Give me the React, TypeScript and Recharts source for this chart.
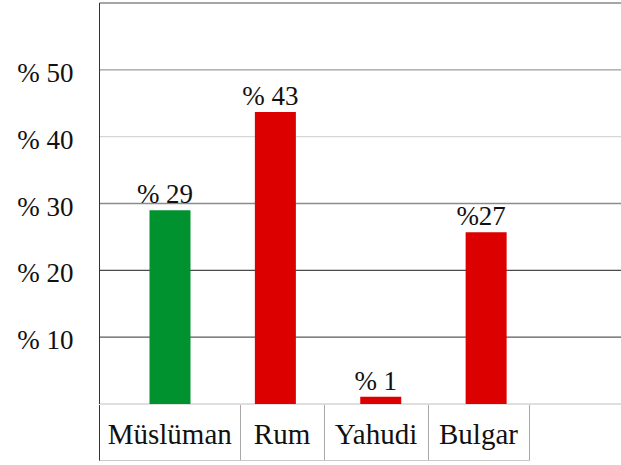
import React from 'react';
import { BarChart, Bar, XAxis, YAxis, CartesianGrid, Cell, LabelList } from 'recharts';

const categories = ['Müslüman', 'Rum', 'Yahudi', 'Bulgar'];
const values = [29, 43.7, 1.1, 25.7];
const valueLabels = ['% 29', '% 43', '% 1', '%27'];
const barColors = ['#00922e', '#dd0000', '#dd0000', '#dd0000'];
const yTicks = [0, 10, 20, 30, 40, 50];

// line colours of the horizontal rules, from 0 up to 50
const gridColors = ['#d4d4d4', '#5a5a5a', '#4a4a4a', '#8c8c8c', '#d6d6d6', '#9c9c9c'];
const boxWidths = [140.5, 84, 104, 101];

const serif = "'Liberation Serif', 'Times New Roman', Times, 'DejaVu Serif', serif";

const data = categories.map((name, i) => ({ name, value: values[i], label: valueLabels[i] }));

const YTick = (props: any) => {
  const { x, y, payload } = props;
  if (payload.value === 0) return <g />;
  return (
    <text x={x} y={y} dy={12} textAnchor="end" fontSize={27} style={{ fontFamily: serif }} fill="#111">
      {`% ${payload.value}`}
    </text>
  );
};

const BarLabel = (props: any) => {
  const { x, y, width, value } = props;
  return (
    <text x={x + width / 2 - 5} y={y - 7} textAnchor="middle" fontSize={27} style={{ fontFamily: serif }} fill="#111">
      {value}
    </text>
  );
};

const GridLine = (props: any) => {
  const { x1, x2, y1, y2, index } = props;
  return <line x1={x1} x2={x2} y1={y1} y2={y2} stroke={gridColors[index] || '#888'} strokeWidth={1.3} />;
};

const App = () => {
  return (
    <div style={{ position: 'absolute', left: 0, top: 0, width: 621, height: 465, background: '#fff' }}>
      <BarChart width={621} height={465} data={data} margin={{ top: 3, right: 0, left: 0, bottom: 61 }}>
        <CartesianGrid vertical={false} horizontal={GridLine} />
        <XAxis dataKey="name" hide padding={{ left: 18, right: 82 }} />
        <YAxis
          domain={[0, 60]}
          ticks={yTicks}
          interval={0}
          width={99.5}
          tickLine={false}
          tickSize={0}
          tickMargin={26}
          axisLine={{ stroke: '#333' }}
          tick={<YTick />}
        />
        <Bar dataKey="value" barSize={41} isAnimationActive={false}>
          {data.map((d, i) => (
            <Cell key={d.name} fill={barColors[i]} />
          ))}
          <LabelList dataKey="label" content={<BarLabel />} />
        </Bar>
      </BarChart>
      <div
        style={{
          position: 'absolute',
          left: 99,
          top: 404.5,
          height: 55,
          display: 'flex',
          borderLeft: '1px solid #333',
          borderBottom: '1px solid #c8c8c8',
          fontFamily: serif,
          fontSize: 29,
          color: '#111',
        }}
      >
        {categories.map((c, i) => (
          <div
            key={c}
            style={{
              width: boxWidths[i],
              boxSizing: 'border-box',
              borderRight: '1px solid #a8a8a8',
              textAlign: 'center',
              lineHeight: '55px',
              paddingTop: 2,
              whiteSpace: 'nowrap',
            }}
          >
            {c}
          </div>
        ))}
      </div>
    </div>
  );
};

export default App;
